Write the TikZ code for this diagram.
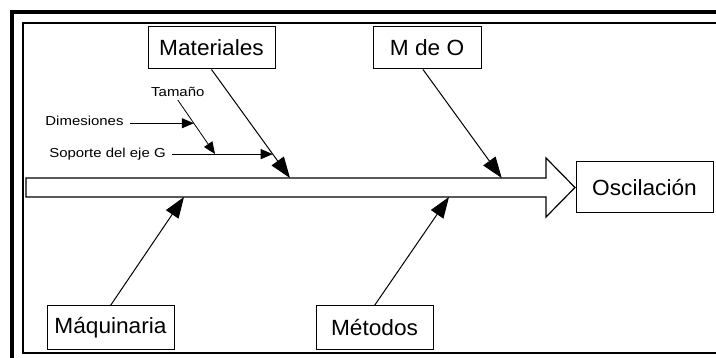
\documentclass[tikz,border=0pt]{standalone}
\usepackage{fontspec}
\setmainfont[FakeStretch=1.03]{Liberation Sans}
\newfontfamily\smallfnt[FakeStretch=1.15]{Liberation Sans}
\usetikzlibrary{arrows.meta,calc}
\begin{document}
\begin{tikzpicture}[x=1pt,y=-1pt,
  box/.style={draw, line width=1pt, inner sep=0pt, font=\fontsize{22}{26}\selectfont},
  lbl/.style={inner xsep=6pt, inner ysep=3pt, anchor=base, font=\smallfnt\fontsize{13}{15}\selectfont},
  bigarr/.style={line width=1pt, -{Triangle[length=21pt,width=15pt]}},
  smallarr/.style={line width=0.8pt, -{Triangle[length=12pt,width=10pt]}},
  spine/.style={draw, line width=1.2pt, fill=white}]
\useasboundingbox (0,0) rectangle (716,358);
\fill[white] (0,0) rectangle (716,358);
% frame
\draw[line width=4pt] (12,360) -- (12,12) -- (718,12);
\draw[line width=2pt] (718,23) -- (23,23) -- (23,353) -- (718,353);
% spine
\draw[spine] (26,178) -- (546,178) -- (546,158) -- (575,187.5) -- (546,217) -- (546,197) -- (26,197) -- cycle;
% boxes
\node[box, minimum width=127pt, minimum height=42pt] (mat) at (211.5,48) {Materiales};
\node[box, minimum width=108pt, minimum height=42pt] (mo) at (427,48) {M de O};
\node[box, minimum width=137pt, minimum height=51pt] (osc) at (644.5,187.5) {Oscilación};
\node[box, minimum width=127pt, minimum height=44pt] (maq) at (110.5,328) {Máquinaria};
\node[box, minimum width=117pt, minimum height=44pt] (met) at (374.5,328) {Métodos};
% tips on spine
\coordinate (matTip) at (290,178);
\coordinate (moTip) at (501.7,178);
\coordinate (maqTip) at (184,197);
\coordinate (metTip) at (449,197);
\draw[bigarr] (mat.south) -- (matTip);
\draw[bigarr] ([xshift=-4pt]mo.south) -- (moTip);
\draw[bigarr] (maq.north) -- (maqTip);
\draw[bigarr] (met.north) -- (metTip);
% sub causes
\node[lbl] (tam) at (177.8,96.7) {Tamaño};
\node[lbl] (dim) at (84.5,125.7) {Dimesiones};
\node[lbl] (sop) at (107.5,158) {Soporte del eje G};
\coordinate (sopTip) at ($(mat.south)!0.78!(matTip)$);
\coordinate (tamTip) at (215,154);
\coordinate (dimTip) at ($(tam.south)!0.43!(tamTip)$);
\draw[smallarr] (tam.south) -- (tamTip);
\draw[smallarr] (dim.east |- dimTip) -- (dimTip);
\draw[smallarr] (sop.east |- sopTip) -- (sopTip);
\end{tikzpicture}
\end{document}
